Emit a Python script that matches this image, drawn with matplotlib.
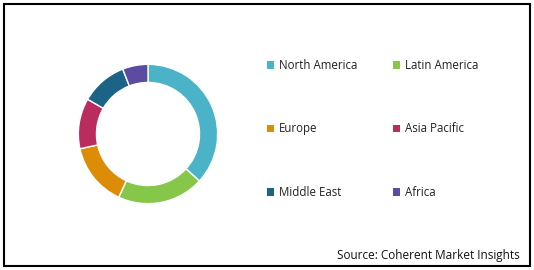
import matplotlib.pyplot as plt
from matplotlib.patches import Rectangle

regions = ['North America', 'Latin America', 'Europe', 'Asia Pacific', 'Middle East', 'Africa']
shares = [36.8, 20.1, 14.7, 11.7, 10.8, 5.9]
colors = ['#4BB3C8', '#86C74A', '#DD8C06', '#BA2B5E', '#1B6387', '#5C4BA0']

plt.rcParams['font.family'] = ['Open Sans', 'DejaVu Sans']

fig = plt.figure(figsize=(5.34, 2.70), dpi=100)

# donut
ax = fig.add_axes([148 / 534 - 0.27, 1 - 134 / 270 - 0.535, 0.54, 1.07])
wedges, _ = ax.pie(shares, colors=colors, startangle=90, counterclock=False,
                   radius=1.0, wedgeprops=dict(width=0.26, edgecolor='white', linewidth=1))
ax.set_xlim(-2.07, 2.07)
ax.set_ylim(-2.07, 2.07)
ax.set_aspect('equal')

# legend, row-major order
order = [0, 2, 4, 1, 3, 5]
handles = [Rectangle((0, 0), 1, 1, facecolor=colors[i], edgecolor='none') for i in order]
leg = fig.legend(handles, [regions[i] for i in order],
                 ncol=2, loc='upper left', bbox_to_anchor=(267 / 534, 1 - 59 / 270),
                 frameon=False, fontsize=8.3, handlelength=0.62, handleheight=0.62,
                 handletextpad=0.4, labelspacing=4.38, columnspacing=3.1,
                 borderpad=0, borderaxespad=0)
for t in leg.get_texts():
    t.set_color('#222222')

fig.text(520 / 534, 1 - 255 / 270, 'Source: Coherent Market Insights', ha='right', va='center',
         fontsize=8.5, color='#111111')

# outer frame
fig.patches.append(Rectangle((4 / 534, 4 / 270), 526 / 534, 262 / 270, transform=fig.transFigure,
                             fill=False, edgecolor='black', linewidth=1.5))

fig.savefig('out.png', dpi=100, facecolor='white')
